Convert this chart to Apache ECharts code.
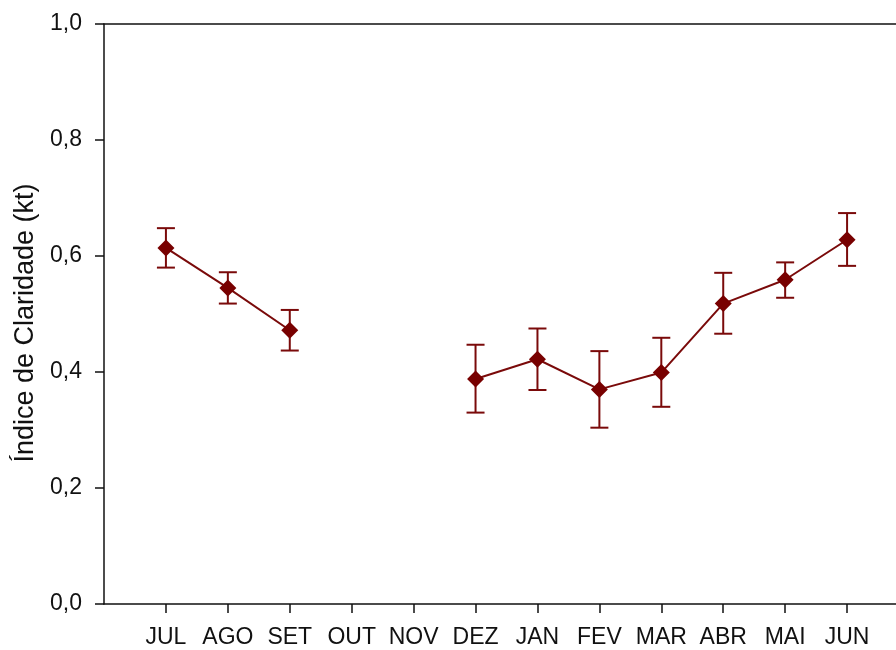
<!DOCTYPE html>
<html><head><meta charset="utf-8">
<script src="https://cdn.jsdelivr.net/npm/echarts@6/dist/echarts.min.js"></script>
<style>html,body{margin:0;padding:0;background:#fff}#c{width:896px;height:650px}</style>
</head><body><div id="c"></div>
<script>
var months = ['JUL','AGO','SET','OUT','NOV','DEZ','JAN','FEV','MAR','ABR','MAI','JUN'];
var meanVals = [0.614, 0.545, 0.472, null, null, 0.388, 0.422, 0.370, 0.399, 0.518, 0.559, 0.628];
var upperVals = [0.648, 0.572, 0.507, null, null, 0.447, 0.475, 0.436, 0.459, 0.571, 0.589, 0.674];
var lowerVals = [0.580, 0.518, 0.437, null, null, 0.330, 0.369, 0.304, 0.340, 0.466, 0.528, 0.583];
var yTicks = [0, 0.2, 0.4, 0.6, 0.8, 1.0];

var cats = [''].concat(months).concat(['']);
var lineData = [null].concat(meanVals).concat([null]);
var errData = [];
for (var i = 0; i < months.length; i++) {
  if (meanVals[i] !== null) errData.push([i + 1, lowerVals[i], upperVals[i]]);
}
var col = '#7a0a0a';
var markCol = '#780000';
var fam = 'Liberation Sans, Arial, sans-serif';
var chart = echarts.init(document.getElementById('c'));
chart.setOption({
  animation: false,
  backgroundColor: '#fff',
  grid: { left: 104, top: 24, width: 805, height: 580, containLabel: false, outerBoundsMode: 'none' },
  xAxis: [{
    type: 'category', data: cats, boundaryGap: false,
    axisLine: { lineStyle: { color: '#111', width: 1.5 } },
    axisTick: { length: 9, lineStyle: { color: '#111', width: 1.5 },
      interval: function (idx) { return idx > 0 && idx < cats.length - 1; } },
    axisLabel: { color: '#111', fontSize: 23, fontFamily: fam, margin: 22,
      interval: function (idx) { return idx > 0 && idx < cats.length - 1; } },
    splitLine: { show: false }
  }, {
    type: 'category', data: cats, boundaryGap: false, position: 'top',
    axisLine: { lineStyle: { color: '#111', width: 1.5 } },
    axisTick: { show: false }, axisLabel: { show: false }
  }],
  yAxis: {
    type: 'value', min: 0, max: 1, interval: 0.2,
    name: 'Índice de Claridade (kt)', nameLocation: 'middle', nameGap: 63,
    nameTextStyle: { color: '#111', fontSize: 27, fontFamily: fam, padding: [0, 18, 0, 0] },
    axisLine: { show: true, lineStyle: { color: '#111', width: 1.5 } },
    axisTick: { show: true, length: 9, lineStyle: { color: '#111', width: 1.5 } },
    axisLabel: { color: '#111', fontSize: 23, fontFamily: fam, margin: 22,
      formatter: function (v) { return v.toFixed(1).replace('.', ','); } },
    splitLine: { show: false }
  },
  series: [{
    type: 'custom',
    data: errData,
    z: 2,
    renderItem: function (params, api) {
      var x = api.value(0);
      var lo = api.coord([x, api.value(1)]);
      var hi = api.coord([x, api.value(2)]);
      var hw = 9;
      var st = { stroke: col, lineWidth: 2, fill: null };
      return { type: 'group', children: [
        { type: 'line', shape: { x1: lo[0], y1: lo[1], x2: hi[0], y2: hi[1] }, style: st },
        { type: 'line', shape: { x1: hi[0] - hw, y1: hi[1], x2: hi[0] + hw, y2: hi[1] }, style: st },
        { type: 'line', shape: { x1: lo[0] - hw, y1: lo[1], x2: lo[0] + hw, y2: lo[1] }, style: st }
      ]};
    }
  }, {
    type: 'line', data: lineData, connectNulls: false, z: 3,
    symbol: 'diamond', symbolSize: 17, showSymbol: true,
    lineStyle: { color: col, width: 2 },
    itemStyle: { color: markCol }
  }]
});
</script></body></html>
